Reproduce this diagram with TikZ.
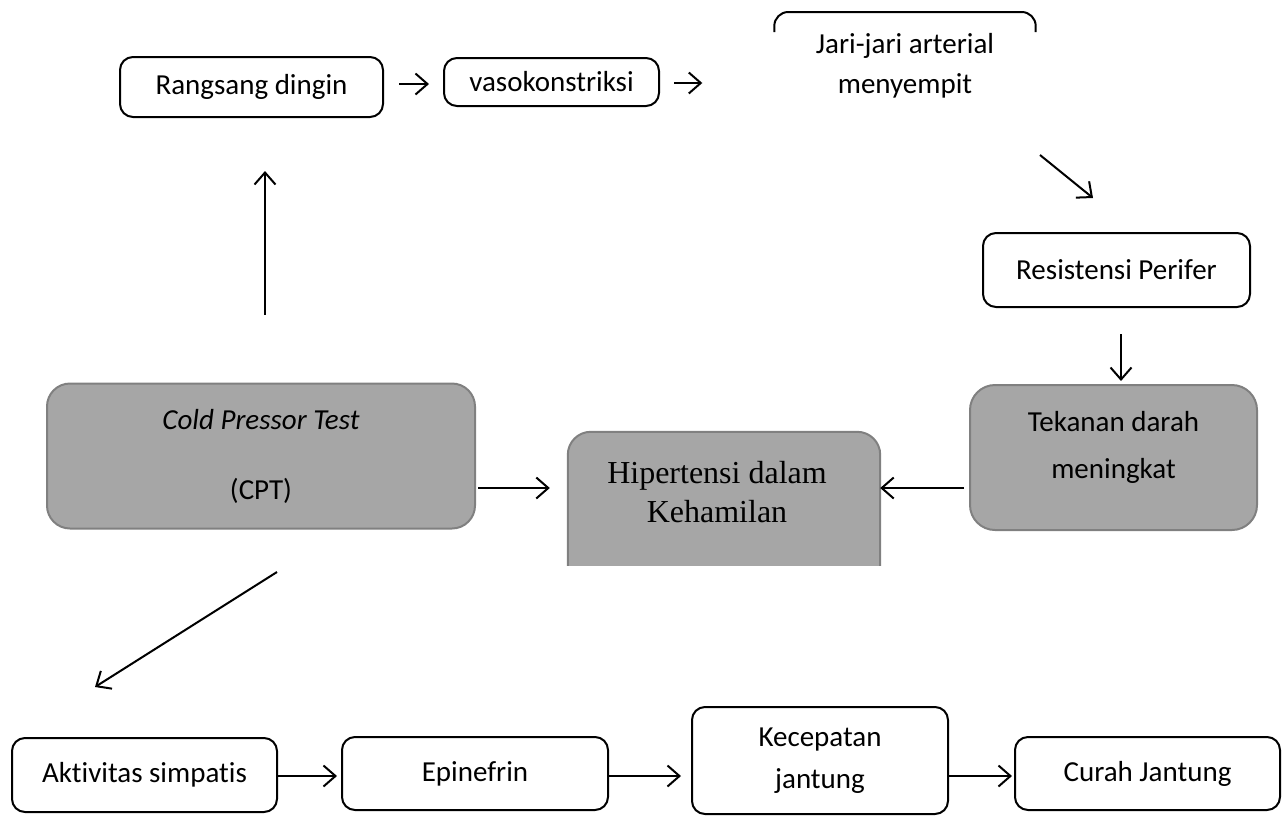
\documentclass[tikz,border=0pt]{standalone}
\usepackage{fontspec}
\setmainfont{Carlito}[Ligatures={NoCommon}]
\newfontfamily\tnr{Liberation Serif}
\usetikzlibrary{arrows.meta}
\definecolor{boxgray}{HTML}{A6A6A6}
\definecolor{edgegray}{HTML}{808080}
\tikzset{
  txt/.style={font=\fontsize{29}{40}\selectfont, align=center, inner sep=0pt},
  wbox/.style={txt, draw=black, line width=2pt, rounded corners=13pt, fill=white},
  gbox/.style={txt, draw=edgegray, line width=2pt, rounded corners=23pt, fill=boxgray},
  arr/.style={line width=2pt, -{Straight Barb[length=12pt,width=21pt]}},
}
\begin{document}
\begin{tikzpicture}[x=1pt,y=-1pt]
\useasboundingbox (0,0) rectangle (1288,815);

% top row
\node[wbox, minimum width=263pt, minimum height=60pt] (rang) at (251.5,87) {Rangsang dingin};
\node[wbox, minimum width=215pt, minimum height=48pt] (vaso) at (551.5,82) {vasokonstriksi};
\node[txt, minimum width=261pt, minimum height=100pt] (jari) at (905,66) {Jari-jari arterial\\menyempit};
\draw[line width=2pt, rounded corners=14pt] (jari.west |- 0,32) -- (jari.west |- 0,12) -- (jari.east |- 0,12) -- (jari.east |- 0,32);

% right column
\node[wbox, minimum width=267pt, minimum height=74pt] (res) at (1116.5,270) {Resistensi Perifer};
\node[gbox, minimum width=287pt, minimum height=145pt, rounded corners=25pt,
  label={[name=tekt, txt, font=\fontsize{29}{47}\selectfont, yshift=10pt]center:{Tekanan darah\\meningkat}}] (tek) at (1113.5,457.5) {};

% hipertensi (cut at bottom)
\node[inner sep=0pt, minimum width=312pt, minimum height=133pt] (hip) at (724,498.5) {};
\begin{scope}
  \clip ([xshift=-5pt,yshift=5pt]hip.north west) rectangle ([xshift=5pt]hip.south east);
  \draw[draw=edgegray, line width=2pt, rounded corners=23pt, fill=boxgray] (hip.north west) rectangle ([yshift=-40pt]hip.south east);
\end{scope}
\node[txt, font=\tnr\fontsize{32}{39}\selectfont] (hipt) at (717,492) {Hipertensi dalam\\Kehamilan};

% CPT
\node[gbox, minimum width=428pt, minimum height=145pt, font=\fontsize{29}{70}\selectfont] (cpt) at (261,456) {\textit{Cold Pressor Test}\\(CPT)};

% bottom row
\node[wbox, minimum width=265pt, minimum height=74pt] (akt) at (144.5,775) {Aktivitas simpatis};
\node[wbox, minimum width=266pt, minimum height=73pt] (epi) at (475,773.5) {Epinefrin};
\node[wbox, minimum width=256pt, minimum height=107pt, font=\fontsize{29}{42}\selectfont] (kec) at (820,760.5) {Kecepatan\\jantung};
\node[wbox, minimum width=265pt, minimum height=73pt] (cur) at (1147.5,773.5) {Curah Jantung};

% connectors
\draw[arr, shorten <=15pt, shorten >=14pt] (rang.east |- 0,84) -- (vaso.west |- 0,84);
\draw[arr, shorten <=14pt, shorten >=72pt] (vaso.east |- 0,83) -- (jari.west |- 0,83);
\coordinate (d1a) at (1040,155);
\coordinate (d1b) at (1093,198);
\draw[arr] (d1a) -- (d1b);
\draw[arr, shorten <=26pt, shorten >=3pt] (res.south -| 1121,0) -- (tek.north -| 1121,0);
\draw[arr, shorten <=5pt] (tek.west |- 0,488) -- (hip.east |- 0,488);
\draw[arr, shorten <=2pt, shorten >=18pt] (cpt.east |- 0,488) -- (hip.west |- 0,488);
\draw[arr, shorten <=68pt, shorten >=53pt] (cpt.north -| 265,0) -- (rang.south -| 265,0);
\coordinate (d2a) at (277,572);
\coordinate (d2b) at (95,687);
\draw[arr] (d2a) -- (d2b);
\draw[arr, shorten >=4pt] (akt.east |- 0,776) -- (epi.west |- 0,776);
\draw[arr, shorten >=10pt] (epi.east |- 0,776) -- (kec.west |- 0,776);
\draw[arr, shorten >=2pt] (kec.east |- 0,776) -- (cur.west |- 0,776);
\end{tikzpicture}
\end{document}
